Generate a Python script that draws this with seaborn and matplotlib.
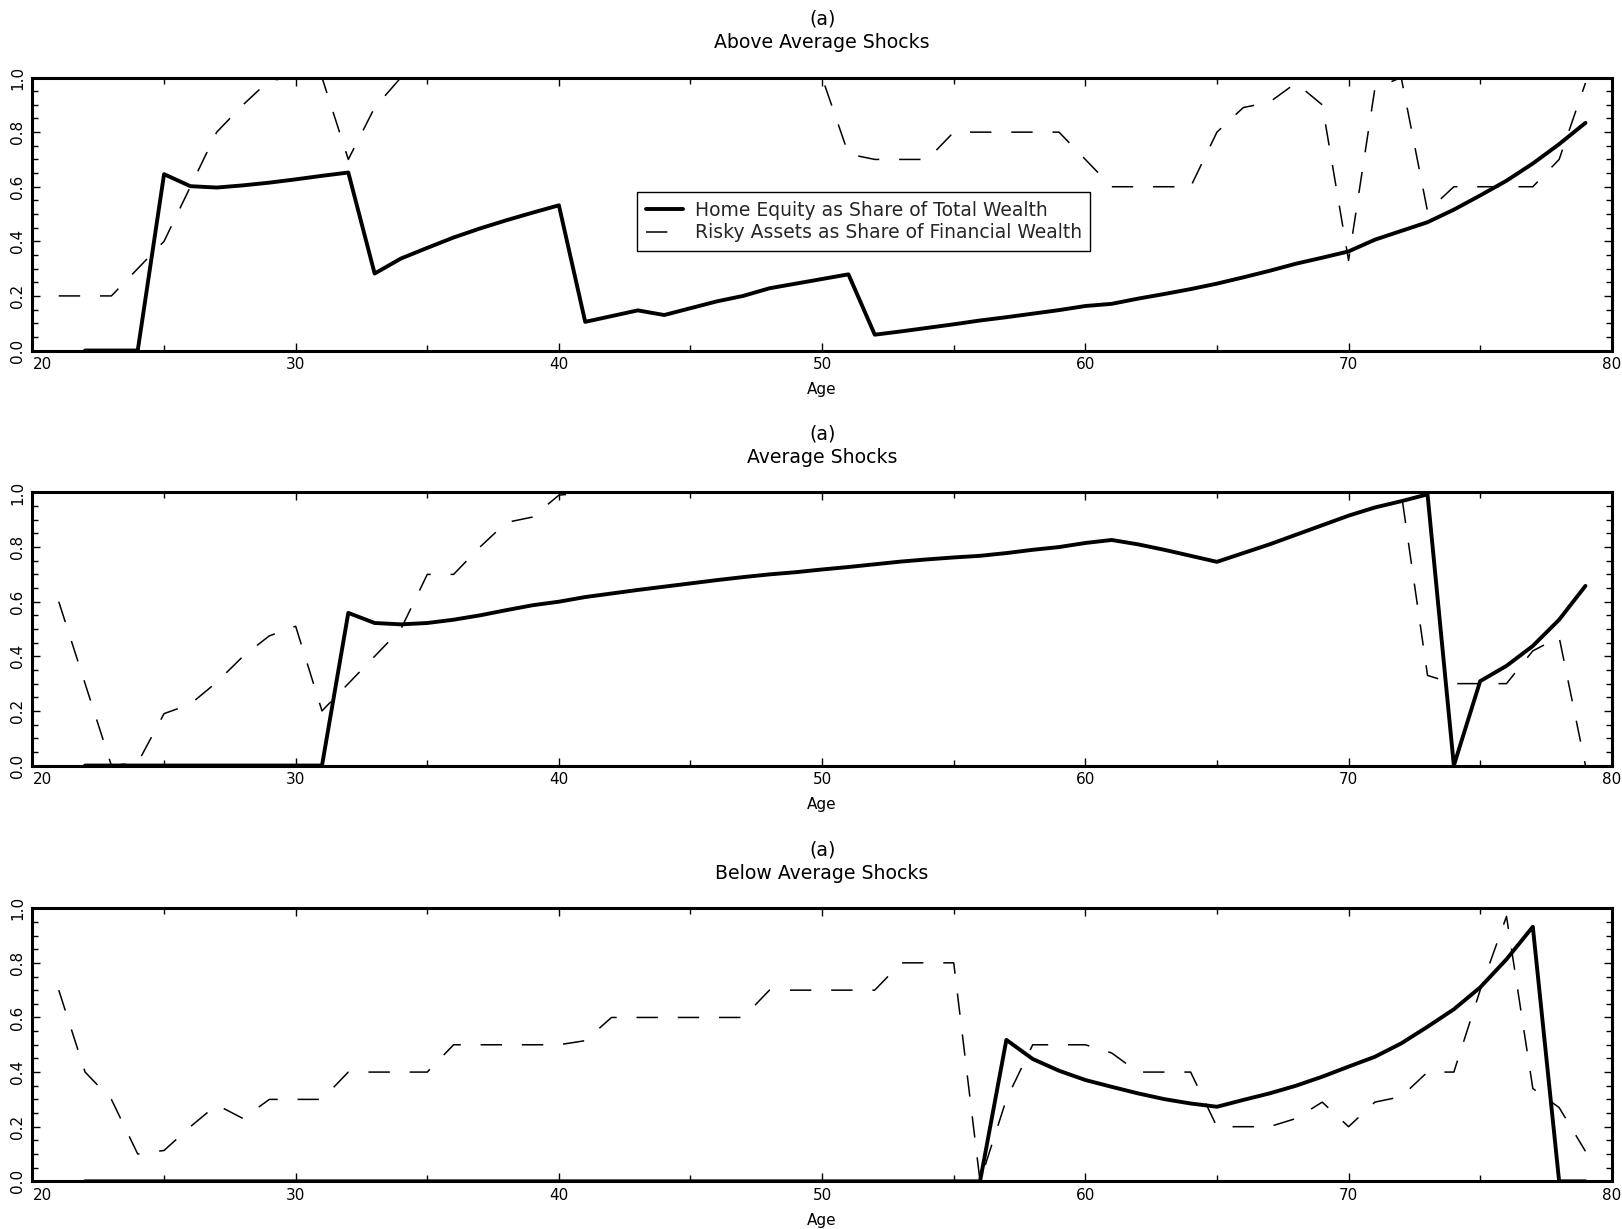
import matplotlib
matplotlib.use("Agg")
import matplotlib.pyplot as plt
import seaborn as sns
from matplotlib.ticker import MultipleLocator
from matplotlib.lines import Line2D

# ---------------- data ----------------
ages_home = list(range(22, 80))
ages_risky = list(range(21, 80))

home_above = [0, 0, 0, 0.646, 0.602, 0.597, 0.605, 0.615, 0.627, 0.64, 0.652,
              0.282, 0.337, 0.376, 0.414, 0.447, 0.477, 0.505, 0.532,
              0.105, 0.126, 0.147, 0.13, 0.155, 0.18, 0.2, 0.228, 0.245, 0.262, 0.279,
              0.058, 0.07, 0.083, 0.096, 0.11, 0.122, 0.135, 0.148, 0.163, 0.171,
              0.19, 0.207, 0.225, 0.245, 0.268, 0.292, 0.318, 0.34, 0.363, 0.406,
              0.438, 0.47, 0.516, 0.568, 0.622, 0.685, 0.756, 0.834]
risky_above = [0.2, 0.2, 0.2, 0.3, 0.4, 0.6, 0.8, 0.9, 0.99, 1.0, 1.0, 0.7, 0.89, 1.0,
               1.0, 1.0, 1.0, 1.0, 1.0, 1.0, 1.0, 1.0, 1.0, 1.0, 1.0, 1.0, 1.0, 1.0, 1.0, 1.0,
               0.72, 0.7, 0.7, 0.7, 0.8, 0.8, 0.8, 0.8, 0.8, 0.7,
               0.6, 0.6, 0.6, 0.6, 0.8, 0.89, 0.91, 0.98, 0.9, 0.33,
               0.96, 1.0, 0.51, 0.6, 0.6, 0.6, 0.6, 0.7, 0.98]

home_avg = [0, 0, 0, 0, 0, 0, 0, 0, 0, 0,
            0.559, 0.522, 0.517, 0.522, 0.534, 0.55, 0.569, 0.587, 0.60,
            0.617, 0.63, 0.643, 0.655, 0.667, 0.679, 0.69, 0.70, 0.708, 0.718,
            0.727, 0.737, 0.747, 0.755, 0.762, 0.768, 0.778, 0.79, 0.80, 0.815,
            0.826, 0.81, 0.79, 0.768, 0.746, 0.778, 0.81, 0.845, 0.88, 0.915,
            0.945, 0.968, 0.993, 0.0, 0.309, 0.365, 0.438, 0.534, 0.658]
risky_avg = [0.6, 0.3, 0.0, 0.01, 0.19, 0.225, 0.305, 0.40, 0.475, 0.51,
             0.2, 0.3, 0.4, 0.5, 0.7, 0.7, 0.8, 0.89, 0.91, 0.99,
             1.0, 1.0, 1.0, 1.0, 1.0, 1.0, 1.0, 1.0, 1.0, 1.0, 1.0, 1.0, 1.0, 1.0, 1.0, 1.0,
             1.0, 1.0, 1.0, 1.0, 1.0, 1.0, 1.0, 1.0, 1.0, 1.0, 1.0, 1.0, 1.0, 1.0, 1.0, 1.0,
             0.33, 0.3, 0.3, 0.3, 0.42, 0.47, 0.0]

home_below = [0] * 35 + [0.518, 0.448, 0.405, 0.371, 0.346, 0.322, 0.301, 0.285, 0.273, 0.298,
                         0.322, 0.35, 0.383, 0.42, 0.456, 0.505, 0.566, 0.63, 0.71, 0.813,
                         0.932, 0.0, 0.0]
risky_below = [0.7, 0.4, 0.3, 0.1, 0.113, 0.2, 0.28, 0.23, 0.3, 0.3,
               0.3, 0.4, 0.4, 0.4, 0.4, 0.5, 0.5, 0.5, 0.5, 0.5,
               0.515, 0.6, 0.6, 0.6, 0.6, 0.6, 0.6, 0.7, 0.7, 0.7,
               0.7, 0.7, 0.8, 0.8, 0.8, 0.0, 0.3, 0.5, 0.5, 0.5,
               0.47, 0.4, 0.4, 0.4, 0.2, 0.2, 0.2, 0.23, 0.29, 0.2,
               0.29, 0.31, 0.4, 0.4, 0.7, 0.97, 0.34, 0.27, 0.11]

panel_tag = "(a)"
panel_titles = ["Above Average Shocks", "Average Shocks", "Below Average Shocks"]
series_labels = ["Home Equity as Share of Total Wealth",
                 "Risky Assets as Share of Financial Wealth"]
x_label = "Age"
x_ticks = [20, 30, 40, 50, 60, 70, 80]
y_ticks = [0.0, 0.2, 0.4, 0.6, 0.8, 1.0]
y_tick_labels = ["0.0", "0.2", "0.4", "0.6", "0.8", "1.0"]

panels = [(home_above, risky_above), (home_avg, risky_avg), (home_below, risky_below)]

# ---------------- style ----------------
sns.set_theme(style="white")
plt.rcParams["font.family"] = ["DejaVu Sans"]

fig = plt.figure(figsize=(16.22, 12.29), dpi=100)
positions = [(0.0200, 0.7148, 0.9737, 0.2221),
             (0.0200, 0.3771, 0.9737, 0.2222),
             (0.0200, 0.0388, 0.9737, 0.2222)]

dash_style = (0, (14, 13))

for i, ((home, risky), pos, title) in enumerate(zip(panels, positions, panel_titles)):
    ax = fig.add_axes(pos)
    sns.lineplot(x=ages_home, y=home, ax=ax, color="black", linewidth=2.8,
                 legend=False, zorder=3)
    sns.lineplot(x=ages_risky, y=risky, ax=ax, color="black", linewidth=1.1,
                 linestyle=dash_style, legend=False, zorder=3)
    ax.set_xlim(20, 80)
    ax.set_ylim(0, 1)
    ax.set_facecolor("white")
    for sp in ax.spines.values():
        sp.set_visible(True)
        sp.set_color("black")
        sp.set_linewidth(2.2)
    ax.set_xticks(x_ticks)
    ax.set_xticklabels([str(t) for t in x_ticks])
    ax.xaxis.set_minor_locator(MultipleLocator(5))
    ax.set_yticks(y_ticks)
    ax.set_yticklabels(y_tick_labels)
    ax.yaxis.set_minor_locator(MultipleLocator(0.05))
    ax.tick_params(which="both", direction="in", top=True, right=True,
                   bottom=True, left=True, color="black", width=1.0)
    ax.tick_params(which="major", length=6, labelsize=11, labelcolor="black")
    ax.tick_params(which="minor", length=4)
    ax.tick_params(axis="x", which="major", pad=5)
    ax.tick_params(axis="y", which="major", pad=5, labelrotation=90)
    for lab in ax.get_yticklabels():
        lab.set_verticalalignment("center")
    ax.get_xticklabels()[0].set_horizontalalignment("left")
    ax.set_xlabel(x_label, fontsize=11, labelpad=7, color="black")
    ax.set_ylabel("")
    ax.annotate(panel_tag, xy=(0.5, 1.0), xycoords="axes fraction",
                xytext=(0, 42), textcoords="offset points",
                ha="center", va="center", fontsize=13.6, color="black")
    ax.annotate(title, xy=(0.5, 1.0), xycoords="axes fraction",
                xytext=(0, 25), textcoords="offset points",
                ha="center", va="center", fontsize=13.6, color="black")
    if i == 0:
        handles = [Line2D([], [], color="black", linewidth=2.8),
                   Line2D([], [], color="black", linewidth=1.1, linestyle=dash_style)]
        leg = ax.legend(handles, series_labels, loc="upper left",
                        bbox_to_anchor=(0.383, 0.58), frameon=True, fancybox=False,
                        edgecolor="black", framealpha=1, fontsize=13.5,
                        handlelength=2.0, borderpad=0.45, labelspacing=0.2,
                        handletextpad=0.6, borderaxespad=0)
        leg.get_frame().set_linewidth(1.0)

fig.savefig("out.png", dpi=100, facecolor="white")
